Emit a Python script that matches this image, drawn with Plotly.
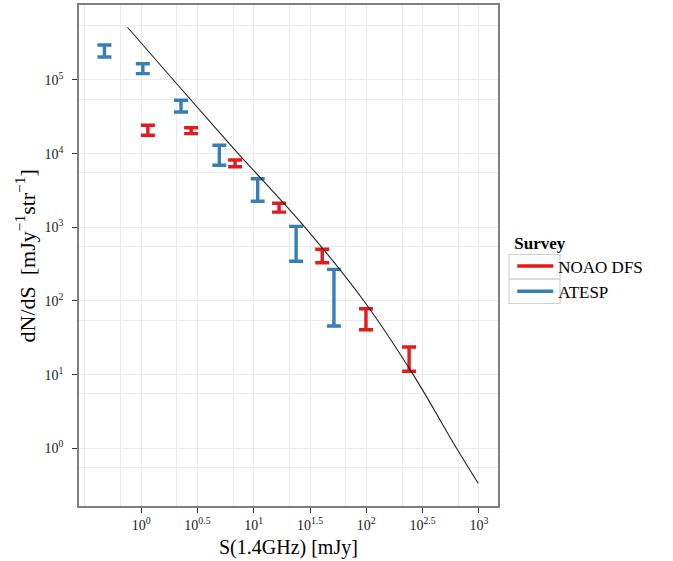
import plotly.graph_objects as go

# ---- data ----
noao_S = [1.147, 2.78, 6.83, 16.8, 40.6, 99.3, 240.0]
noao_hi = [2.43e4, 2.25e4, 8.2e3, 2.12e3, 503, 78.6, 23.7]
noao_lo = [1.78e4, 1.87e4, 6.65e3, 1.61e3, 331, 40.7, 11.1]

atesp_S = [0.472, 1.035, 2.26, 4.95, 10.85, 23.8, 51.6]
atesp_hi = [2.99e5, 1.66e5, 5.3e4, 1.30e4, 4.57e3, 1.03e3, 269]
atesp_lo = [2.05e5, 1.22e5, 3.68e4, 6.95e3, 2.26e3, 346, 45.7]

model_S = [0.756, 1.935, 6.83, 28.55, 95.3, 261, 634, 986]
model_N = [5.2e5, 1e5, 1.12e4, 1e3, 100, 10, 1, 0.335]

x_major = [1, 10**0.5, 10, 10**1.5, 100, 10**2.5, 1000]
x_major_text = ["10<sup>0</sup>", "10<sup>0.5</sup>", "10<sup>1</sup>", "10<sup>1.5</sup>",
                "10<sup>2</sup>", "10<sup>2.5</sup>", "10<sup>3</sup>"]
x_minor = [10**-0.5, 0.658, 2.081, 6.58, 20.81, 65.8, 208.1, 658]
y_major = [1, 10, 100, 1e3, 1e4, 1e5]
y_major_text = ["10<sup>0</sup>", "10<sup>1</sup>", "10<sup>2</sup>", "10<sup>3</sup>",
                "10<sup>4</sup>", "10<sup>5</sup>"]
y_minor = [0.55, 5.5, 55, 550, 5.5e3, 5.5e4, 5.5e5]

x_title = "S(1.4GHz) [mJy]"
y_title = "dN/dS  [mJy<sup>−1</sup>str<sup>−1</sup>]"
legend_title = "<b>Survey</b>"

RED = "#E41A1C"
BLUE = "#377EB8"
FONT = "Liberation Serif"


def err_trace(S, hi, lo, color):
    mid = [(h * l) ** 0.5 for h, l in zip(hi, lo)]
    return go.Scatter(
        x=S, y=mid, mode="markers",
        marker=dict(size=1, opacity=0, color=color),
        error_y=dict(type="data", symmetric=False,
                     array=[h - m for h, m in zip(hi, mid)],
                     arrayminus=[m - l for m, l in zip(mid, lo)],
                     color=color, thickness=3.4, width=7),
        showlegend=False, hoverinfo="skip")


fig = go.Figure()
fig.add_trace(err_trace(atesp_S, atesp_hi, atesp_lo, BLUE))
fig.add_trace(err_trace(noao_S, noao_hi, noao_lo, RED))
fig.add_trace(go.Scatter(x=model_S, y=model_N, mode="lines",
                         line=dict(color="#222222", width=1.1, shape="spline", smoothing=1.0),
                         showlegend=False, hoverinfo="skip"))
# legend entries
fig.add_trace(go.Scatter(x=[None], y=[None], mode="lines", name="NOAO DFS",
                         line=dict(color=RED, width=3.5)))
fig.add_trace(go.Scatter(x=[None], y=[None], mode="lines", name="ATESP",
                         line=dict(color=BLUE, width=3.5)))

axis_common = dict(
    showline=True, mirror=True, linecolor="#7F7F7F", linewidth=1.6,
    gridcolor="#EBEBEB", gridwidth=1.3,
    ticks="outside", ticklen=5, tickcolor="#333333", tickwidth=1,
    tickfont=dict(family=FONT, size=14, color="#1a1a1a"),
    zeroline=False, automargin=False,
)

fig.update_xaxes(type="log", range=[-0.552, 3.170],
                 tickmode="array", tickvals=x_major, ticktext=x_major_text,
                 minor=dict(tickmode="array", tickvals=x_minor, showgrid=True,
                            gridcolor="#EBEBEB", gridwidth=1.3, ticks=""),
                 **axis_common)
fig.update_yaxes(type="log", range=[-0.783, 6.018],
                 tickmode="array", tickvals=y_major, ticktext=y_major_text,
                 ticklabelstandoff=6,
                 minor=dict(tickmode="array", tickvals=y_minor, showgrid=True,
                            gridcolor="#EBEBEB", gridwidth=1.3, ticks=""),
                 **axis_common)

# axis titles
fig.add_annotation(text=x_title, xref="paper", yref="paper", x=0.5, y=-0.0838,
                   xanchor="center", yanchor="middle", showarrow=False,
                   font=dict(family=FONT, size=20, color="black"))
fig.add_annotation(text=y_title, xref="paper", yref="paper", x=-0.1289, y=0.5,
                   xanchor="center", yanchor="middle", showarrow=False, textangle=-90,
                   font=dict(family=FONT, size=22, color="black"))

# legend key boxes (ggplot-style)
for y_top, y_bot in [(0.502, 0.4531), (0.4531, 0.4042)]:
    fig.add_shape(type="rect", xref="paper", yref="paper",
                  x0=1.0263, x1=1.148, y0=y_bot, y1=y_top,
                  line=dict(color="#D0D0D0", width=1.2), fillcolor="rgba(0,0,0,0)")

fig.update_layout(
    width=673, height=561,
    margin=dict(l=79, r=175, t=5, b=55),
    plot_bgcolor="white", paper_bgcolor="white",
    font=dict(family=FONT, color="black"),
    legend=dict(title=dict(text=legend_title, font=dict(family=FONT, size=17)),
                font=dict(family=FONT, size=17),
                x=1.034, xanchor="left", y=0.558, yanchor="top",
                bgcolor="rgba(0,0,0,0)", tracegroupgap=0, itemwidth=36),
)

fig.write_html("out.html", config={"displayModeBar": False},
               post_script="document.body.style.margin='0';")
